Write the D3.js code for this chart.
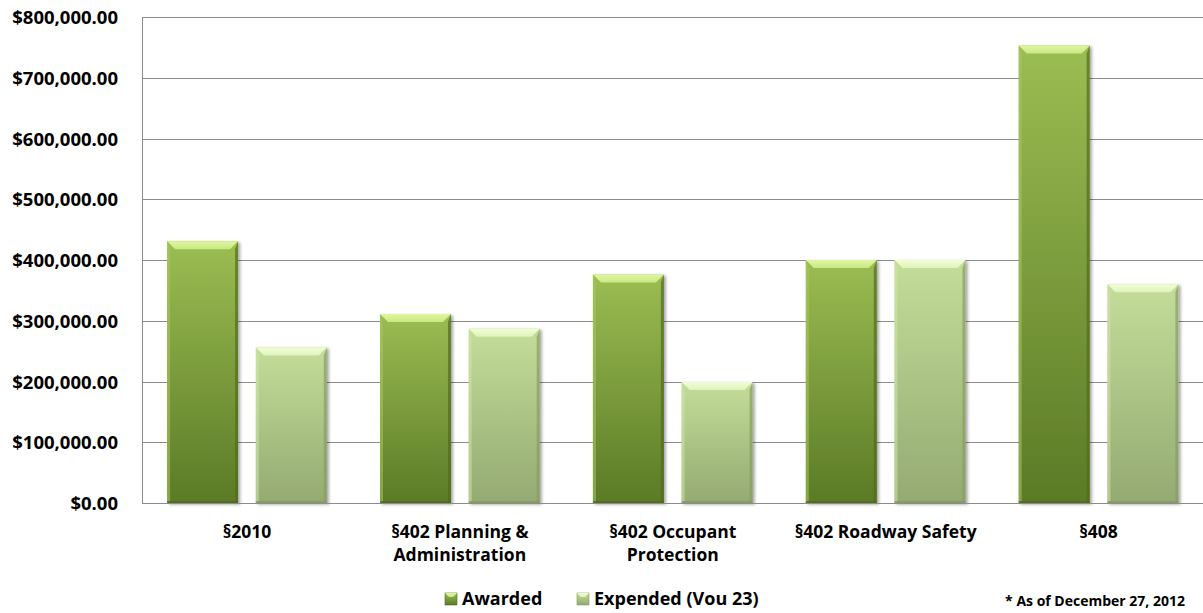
<!DOCTYPE html>
<html>
<head>
<meta charset="utf-8">
<script src="https://cdn.jsdelivr.net/npm/d3@7"></script>
<style>
  html, body { margin: 0; padding: 0; background: #fff; }
  svg { display: block; font-family: "Open Sans", Lato, "DejaVu Sans", sans-serif; }
</style>
</head>
<body>
<svg id="chart" width="1203" height="613"></svg>
<script>
// Grant funds by program section
const categories = [
  ["§2010"],
  ["§402 Planning &", "Administration"],
  ["§402 Occupant", "Protection"],
  ["§402 Roadway Safety"],
  ["§408"]
];
const seriesNames = ["Awarded", "Expended (Vou 23)"];
const awarded  = [431000, 311000, 376000, 400000, 753000];
const expended = [256000, 287000, 199000, 400000, 360000];
const yTicks = [0, 100000, 200000, 300000, 400000, 500000, 600000, 700000, 800000];
const footnote = "* As of December 27, 2012";

const fontFamily = '"Open Sans", Lato, "DejaVu Sans", sans-serif';
const svg = d3.select("#chart");
const plotLeft = 142, plotRight = 1205, plotTop = 17, plotBottom = 503;

const catKeys = categories.map(c => c.join(" "));
const x0 = d3.scaleBand().domain(catKeys).range([plotLeft - 1.5, plotRight]).paddingInner(0.25).paddingOuter(0.125);
const x1 = d3.scaleBand().domain(seriesNames).range([0, x0.bandwidth()]).paddingInner(0.2);
const y = d3.scaleLinear().domain([0, 800000]).range([plotBottom, plotTop]);

const defs = svg.append("defs");
const palettes = {
  "Awarded": { top: "#9bbd52", bottom: "#5b7a26", bevel: "#c9e883", bevelHi: "#dff7a0", sideL: "#a7c860", sideR: "#4f6c1f", base: "#4a661c" },
  "Expended (Vou 23)": { top: "#c4dd99", bottom: "#94aa72", bevel: "#e0f3bb", bevelHi: "#f1fdd5", sideL: "#cfe6a8", sideR: "#869c63", base: "#7e925d" }
};
seriesNames.forEach((s, i) => {
  const p = palettes[s];
  const g = defs.append("linearGradient").attr("id", "grad" + i)
    .attr("x1", 0).attr("y1", 0).attr("x2", 0).attr("y2", 1);
  g.append("stop").attr("offset", "0%").attr("stop-color", p.top);
  g.append("stop").attr("offset", "100%").attr("stop-color", p.bottom);
  const b = defs.append("linearGradient").attr("id", "bevel" + i)
    .attr("x1", 0).attr("y1", 0).attr("x2", 0).attr("y2", 1);
  b.append("stop").attr("offset", "0%").attr("stop-color", p.bevelHi);
  b.append("stop").attr("offset", "100%").attr("stop-color", p.bevel);
});
const shadow = defs.append("filter").attr("id", "shadow")
  .attr("x", "-10%").attr("y", "-10%").attr("width", "130%").attr("height", "130%");
shadow.append("feDropShadow").attr("dx", 2).attr("dy", 1.5).attr("stdDeviation", 1.8)
  .attr("flood-color", "#000").attr("flood-opacity", 0.35);

// Gridlines and value axis
const yAxis = d3.axisLeft(y).tickValues(yTicks)
  .tickFormat(d => "$" + d3.format(",.2f")(d))
  .tickSize(-(plotRight - plotLeft)).tickPadding(24);
const ya = svg.append("g").attr("transform", `translate(${plotLeft},0)`).call(yAxis)
  .attr("font-family", fontFamily);
ya.select(".domain").remove();
ya.selectAll(".tick line").attr("stroke", "#8c8c8c").attr("stroke-width", 1)
  .attr("shape-rendering", "crispEdges");
ya.selectAll(".tick text").attr("fill", "#000").attr("font-size", 18.5).attr("font-weight", 700)
  .attr("dy", "0.36em");
svg.append("line").attr("x1", plotLeft + 0.5).attr("x2", plotLeft + 0.5).attr("y1", plotTop).attr("y2", plotBottom + 0.5)
  .attr("stroke", "#8c8c8c").attr("shape-rendering", "crispEdges");

// Bars with bevelled edges
const rows = catKeys.map((k, i) => ({ key: k, vals: [awarded[i], expended[i]] }));
const groups = svg.append("g").selectAll("g").data(rows).join("g")
  .attr("transform", d => `translate(${x0(d.key)},0)`);

groups.each(function(d) {
  const g = d3.select(this);
  d.vals.forEach((v, i) => {
    const s = seriesNames[i];
    const p = palettes[s];
    const bx = x1(s), bw = x1.bandwidth();
    const by = y(v), bh = y(0) - y(v);
    const bar = g.append("g").attr("filter", "url(#shadow)");
    bar.append("rect").attr("x", bx).attr("y", by).attr("width", bw).attr("height", bh)
      .attr("fill", `url(#grad${i})`);
    const t = 8, sd = 3;
    // top bevel
    bar.append("path").attr("d", `M${bx},${by} L${bx + bw},${by} L${bx + bw - t},${by + t} L${bx + t},${by + t} Z`)
      .attr("fill", `url(#bevel${i})`);
    // left edge
    bar.append("path").attr("d", `M${bx},${by} L${bx + sd},${by + t} L${bx + sd},${by + bh - 2} L${bx},${by + bh} Z`)
      .attr("fill", p.sideL).attr("opacity", 0.55);
    // right edge
    bar.append("path").attr("d", `M${bx + bw},${by} L${bx + bw - sd},${by + t} L${bx + bw - sd},${by + bh - 2} L${bx + bw},${by + bh} Z`)
      .attr("fill", p.sideR).attr("opacity", 0.7);
    // bottom edge
    bar.append("rect").attr("x", bx).attr("y", by + bh - 2).attr("width", bw).attr("height", 2)
      .attr("fill", p.base).attr("opacity", 0.6);
  });
});

// Axis baseline drawn above bars
svg.append("line").attr("x1", plotLeft).attr("x2", plotRight).attr("y1", plotBottom + 0.5).attr("y2", plotBottom + 0.5)
  .attr("stroke", "#8c8c8c").attr("shape-rendering", "crispEdges");

// Category labels
const catLabels = svg.append("g").selectAll("text").data(categories).join("text")
  .attr("x", (d, i) => x0(catKeys[i]) + x0.bandwidth() / 2)
  .attr("y", 538)
  .attr("text-anchor", "middle").attr("font-size", 17.5).attr("font-weight", 700).attr("fill", "#000");
catLabels.selectAll("tspan").data(d => d).join("tspan")
  .attr("x", function() { return this.parentNode.getAttribute("x"); })
  .attr("dy", (d, i) => i === 0 ? 0 : 23)
  .text(d => d);

// Legend
const legendItems = [{ name: seriesNames[0], x: 445, idx: 0 }, { name: seriesNames[1], x: 577, idx: 1 }];
const lg = svg.append("g").selectAll("g").data(legendItems).join("g")
  .attr("transform", d => `translate(${d.x},593)`);
lg.append("rect").attr("width", 12).attr("height", 12).attr("fill", d => `url(#grad${d.idx})`)
  .attr("stroke", d => palettes[seriesNames[d.idx]].sideR).attr("stroke-width", 0.6);
lg.append("path").attr("d", "M0,0 L12,0 L8,4 L4,4 Z").attr("fill", d => `url(#bevel${d.idx})`);
lg.append("text").attr("x", 17).attr("y", 12).attr("font-size", 18).attr("font-weight", 700)
  .attr("fill", "#000").text(d => d.name);

svg.append("text").attr("x", 1185).attr("y", 606).attr("text-anchor", "end")
  .attr("font-size", 14).attr("font-weight", 700).attr("fill", "#000").text(footnote);
</script>
</body>
</html>
